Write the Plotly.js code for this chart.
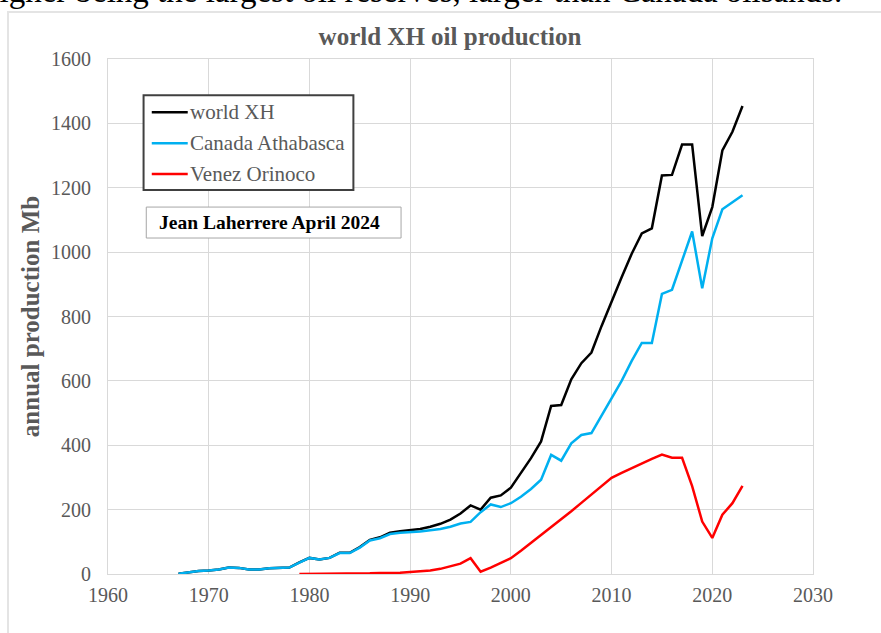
<!DOCTYPE html>
<html>
<head>
<meta charset="utf-8">
<script src="https://cdn.plot.ly/plotly-3.0.1.min.js"></script>
<style>
  html, body { margin: 0; padding: 0; background: #ffffff; overflow: hidden; }
  #wrap { position: relative; width: 881px; height: 633px; overflow: hidden; }
  #chart { position: absolute; left: 0; top: 0; width: 881px; height: 633px; }
  #headline {
    position: absolute; left: -17px; top: -25px; white-space: nowrap;
    font-family: "Liberation Serif", "Times New Roman", serif;
    font-size: 33px; line-height: 33px; color: #000000;
  }
  #frame {
    position: absolute; left: 7px; top: 11px; width: 1000px; height: 1000px;
    border: 2px solid #e4e4e4; pointer-events: none;
  }
</style>
</head>
<body>
<div id="wrap">
  <div id="chart"></div>
  <div id="frame"></div>
  <div id="headline">higher being the largest oil reserves, larger than Canada oilsands.</div>
</div>
<script>
// Annual extra-heavy oil production, million barrels
var yearsWorld = [1967,1968,1969,1970,1971,1972,1973,1974,1975,1976,1977,1978,
  1979,1980,1981,1982,1983,1984,1985,1986,1987,1988,1989,
  1990,1991,1992,1993,1994,1995,1996,1997,1998,1999,
  2000,2001,2002,2003,2004,2005,2006,2007,2008,2009,
  2010,2011,2012,2013,2014,2015,2016,2017,2018,2019,
  2020,2021,2022,2023];
var worldXH = [1,6,9,11,14,20,19,14,14,18,19,20,
  36,50,45,50,66,66,84,106,114,128,133,
  136,140,147,156,169,188,213,200,237,244,
  268,313,360,412,522,525,605,655,688,770,
  848,922,995,1058,1074,1238,1240,1334,1334,1050,
  1140,1316,1374,1454];

var yearsCanada = [1967,1968,1969,1970,1971,1972,1973,1974,1975,1976,1977,1978,
  1979,1980,1981,1982,1983,1984,1985,1986,1987,1988,1989,
  1990,1991,1992,1993,1994,1995,1996,1997,1998,1999,
  2000,2001,2002,2003,2004,2005,2006,2007,2008,2009,
  2010,2011,2012,2013,2014,2015,2016,2017,2018,2019,
  2020,2021,2022,2023];
var canadaAthabasca = [1,6,9,11,14,20,19,14,14,18,19,20,
  35,50,45,50,65,65,82,104,111,124,128,
  129,132,136,140,147,157,162,192,216,208,
  220,240,264,293,370,352,406,432,438,493,
  545,600,662,718,718,870,883,972,1064,888,
  1043,1133,1154,1177];

var yearsVenez = [1979,1980,1981,1982,1983,1984,1985,1986,1987,1988,1989,
  1990,1991,1992,1993,1994,1995,1996,1997,1998,1999,
  2000,2001,2002,2003,2004,2005,2006,2007,2008,2009,
  2010,2011,2012,2013,2014,2015,2016,2017,2018,2019,
  2020,2021,2022,2023];
var venezOrinoco = [0,0,0,0,0,0,1,2,3,3,4,
  6,8,11,16,23,32,49,7,20,35,
  49,72,96,121,145,170,195,221,248,274,
  299,314,329,343,358,371,361,361,273,163,
  112,184,220,274];

var seriesNames = ['world XH', 'Canada Athabasca', 'Venez Orinoco'];
var seriesColors = ['#000000', '#00b0f0', '#ff0000'];
var xTicks = [1960,1970,1980,1990,2000,2010,2020,2030];
var yTicks = [0,200,400,600,800,1000,1200,1400,1600];
var creditText = 'Jean Laherrere April 2024';

var SERIF = 'Liberation Serif, Times New Roman, serif';
var GREY = '#595959';
var GRID = '#d9d9d9';

// plot area in pixels, used to place the key and the credit box
var PL = 107.7, PR = 813.3, PT = 58.7, PB = 574.5;
function px(x) { return (x - PL) / (PR - PL); }
function py(y) { return (PB - y) / (PB - PT); }

var traces = [
  { x: yearsWorld, y: worldXH, name: seriesNames[0], type: 'scatter', mode: 'lines',
    line: { color: seriesColors[0], width: 2.5 } },
  { x: yearsCanada, y: canadaAthabasca, name: seriesNames[1], type: 'scatter', mode: 'lines',
    line: { color: seriesColors[1], width: 2.5 } },
  { x: yearsVenez, y: venezOrinoco, name: seriesNames[2], type: 'scatter', mode: 'lines',
    line: { color: seriesColors[2], width: 2.5 } }
];

var axisCommon = {
  showgrid: true, gridcolor: GRID, gridwidth: 1,
  showline: true, linecolor: GRID, linewidth: 1, mirror: true,
  zeroline: false, ticks: '',
  tickfont: { family: SERIF, size: 20, color: GREY },
  fixedrange: true
};

// key: framed box with a line sample and the series name on each row
var keyRows = [112, 143, 174];
var shapes = [{
  type: 'rect', xref: 'paper', yref: 'paper', layer: 'above',
  x0: px(143.3), x1: px(353.3), y0: py(190), y1: py(95),
  line: { color: '#404040', width: 2 }, fillcolor: '#ffffff'
}, {
  type: 'rect', xref: 'paper', yref: 'paper', layer: 'above',
  x0: px(146), x1: px(401), y0: py(238), y1: py(207),
  line: { color: '#a6a6a6', width: 1 }, fillcolor: '#ffffff'
}];
var annotations = [{
  text: '<b>' + creditText + '</b>',
  xref: 'paper', yref: 'paper', x: px(157), y: py(222.5),
  xanchor: 'left', yanchor: 'middle', showarrow: false,
  font: { family: SERIF, size: 19.5, color: '#000000' }
}];
seriesNames.forEach(function (name, i) {
  shapes.push({
    type: 'line', xref: 'paper', yref: 'paper', layer: 'above',
    x0: px(151.5), x1: px(187.5), y0: py(keyRows[i]), y1: py(keyRows[i]),
    line: { color: seriesColors[i], width: 2.5 }
  });
  annotations.push({
    text: name, xref: 'paper', yref: 'paper', x: px(188), y: py(keyRows[i]),
    xanchor: 'left', yanchor: 'middle', showarrow: false,
    font: { family: SERIF, size: 21, color: GREY }
  });
});

var layout = {
  width: 881, height: 633,
  margin: { l: PL, r: 881 - PR, t: PT, b: 633 - PB, pad: 0 },
  paper_bgcolor: 'rgba(0,0,0,0)', plot_bgcolor: '#ffffff',
  font: { family: SERIF, color: GREY },
  showlegend: false,
  title: {
    text: '<b>world XH oil production</b>',
    font: { family: SERIF, size: 25, color: GREY },
    xref: 'container', x: 450 / 881, xanchor: 'center',
    yref: 'container', y: 1 - 36 / 633, yanchor: 'middle'
  },
  xaxis: Object.assign({}, axisCommon, {
    range: [1960, 2030], tickmode: 'array', tickvals: xTicks,
    ticktext: xTicks.map(String), ticklabelstandoff: 3
  }),
  yaxis: Object.assign({}, axisCommon, {
    range: [0, 1600], tickmode: 'array', tickvals: yTicks,
    ticktext: yTicks.map(String), ticklabelstandoff: 12,
    title: { text: '<b>annual production Mb</b>',
      font: { family: SERIF, size: 25, color: GREY }, standoff: 4 }
  }),
  shapes: shapes,
  annotations: annotations
};

Plotly.newPlot('chart', traces, layout, { displayModeBar: false, staticPlot: true });
</script>
</body>
</html>
